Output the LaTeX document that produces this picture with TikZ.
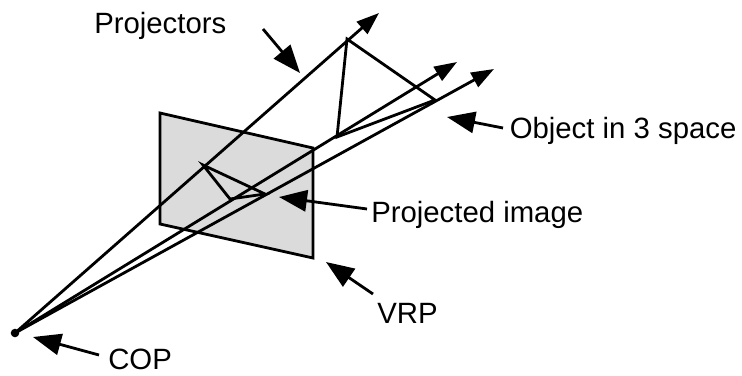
\documentclass[tikz,border=0pt]{standalone}
\usepackage{fontspec}
\setmainfont{Liberation Sans}
\usetikzlibrary{arrows.meta}
\tikzset{
  edge/.style={line width=2.1pt,draw=black,line join=miter},
  ray/.style={edge,-{Triangle[length=17pt,width=12pt]}},
  arr/.style={edge,-{Triangle[length=21pt,width=16pt]}},
  lbl/.style={inner sep=0pt,font=\fontsize{22}{26}\selectfont,text=black,anchor=base west},
}
\begin{document}
\begin{tikzpicture}[x=0.75pt,y=-0.75pt]
\useasboundingbox (0,0) rectangle (742,375);
% plane
\coordinate (r1) at (160,113);
\coordinate (r2) at (313,148);
\coordinate (r3) at (313,258);
\coordinate (r4) at (160,224);
\draw[edge,fill=black!14] (r1) -- (r2) -- (r3) -- (r4) -- cycle;
% projectors
\coordinate (cop) at (15,333);
\coordinate (p1) at (379,13);
\coordinate (p2) at (457,62);
\coordinate (p3) at (494,69);
\draw[ray] (cop) -- (p1);
\draw[ray] (cop) -- (p2);
\draw[ray] (cop) -- (p3);
\fill (cop) circle (3.2pt);
% object
\coordinate (o1) at (347,39);
\coordinate (o2) at (337,137);
\coordinate (o3) at (435,100);
\draw[edge] (o1) -- (o2) -- (o3) -- cycle;
% image
\coordinate (i1) at (203,165);
\coordinate (i2) at (230,199);
\coordinate (i3) at (265,194);
\draw[edge] (i1) -- (i2) -- (i3) -- cycle;
% labels
\node[lbl] (lproj) at (94,33) {Projectors};
\node[lbl] (lobj) at (509.5,138) {Object in 3 space};
\node[lbl] (limg) at (371,222) {Projected image};
\node[lbl] (lvrp) at (377,323) {VRP};
\node[lbl] (lcop) at (108,369.5) {COP};
% pointers
\coordinate (s1) at (263,29); \coordinate (t1) at (300,73);
\coordinate (s2) at (503,128); \coordinate (t2) at (447,117);
\coordinate (s3) at (367,209); \coordinate (t3) at (279,197);
\coordinate (s4) at (373,294); \coordinate (t4) at (326,262);
\coordinate (s5) at (99,355); \coordinate (t5) at (33,337);
\draw[arr] (s1) -- (t1);
\draw[arr] (s2) -- (t2);
\draw[arr] (s3) -- (t3);
\draw[arr] (s4) -- (t4);
\draw[arr] (s5) -- (t5);
\end{tikzpicture}
\end{document}
